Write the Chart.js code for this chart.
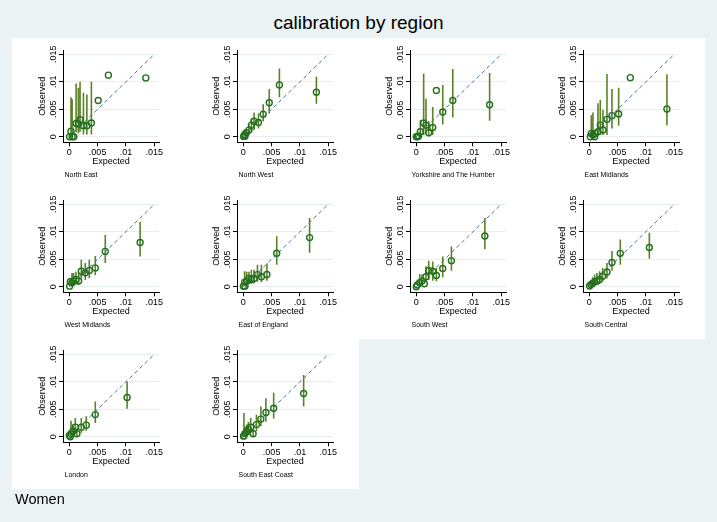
<!DOCTYPE html>
<html>
<head>
<meta charset="utf-8">
<script src="https://cdn.jsdelivr.net/npm/chart.js@4.4.1/dist/chart.umd.min.js"></script>
<style>
  body { margin: 0; width: 717px; height: 522px; background: #eaf2f3; position: relative; overflow: hidden;
         font-family: "Liberation Sans", Arial, sans-serif; color: #000; }
  #title { position: absolute; left: 0; top: 12px; width: 717px; text-align: center; font-size: 19px; line-height: 22px; }
  .white { position: absolute; background: #fff; }
  .panel { position: absolute; width: 174px; height: 150px; }
  .panel canvas { position: absolute; left: 0; top: 0; }
  .lbl { position: absolute; left: 55.5px; top: 132.5px; font-size: 7px; line-height: 8px; white-space: nowrap; }
  #note { position: absolute; left: 15px; top: 491px; font-size: 14.5px; line-height: 16px; }
</style>
</head>
<body>
<div id="title">calibration by region</div>
<div class="white" style="left:12px;top:38px;width:693px;height:301px"></div>
<div class="white" style="left:12px;top:339px;width:347px;height:150px"></div>
<div id="panels"></div>
<div id="note">Women</div>
<script>
const regions = ['North East', 'North West', 'Yorkshire and The Humber', 'East Midlands',
  'West Midlands', 'East of England', 'South West', 'South Central', 'London', 'South East Coast'];

const tickValues = [0, 0.005, 0.01, 0.015];
const tickLabels = ['0', '.005', '.01', '.015'];
const refLine = [0, 0.015];

// expected vs observed rate per group, with 95% interval (null = no interval drawn)
const expected = [
  [.00005, .0003, .0005, .0008, .0012, .0016, .0019, .0025, .0031, .0039, .0051, .0069, .0135],
  [.00005, .00024, .0003, .00054, .0010, .00143, .0019, .00268, .00351, .00458, .00637, .0129],
  [0, .00024, .00041, .00071, .0013, .00171, .00219, .0029, .00354, .00467, .00644, .01294],
  [.00018, .00035, .00065, .00094, .00106, .00153, .00194, .00241, .00312, .0040, .00518, .00724, .0137],
  [.00006, .00018, .00047, .00076, .00118, .00165, .00212, .00282, .00353, .00459, .00635, .0125],
  [.00002, .00024, .0003, .0006, .0010, .00143, .0019, .0025, .0032, .00417, .0059, .0117],
  [0, .00018, .0006, .0010, .00142, .00171, .00219, .0029, .00354, .00467, .0062, .0121],
  [.00006, .0003, .00059, .00094, .00135, .00182, .00235, .00312, .0040, .00547, .0106],
  [0, .00018, .0003, .00065, .00106, .00135, .00212, .0030, .00459, .0102],
  [.00005, .00012, .0003, .0006, .0009, .00131, .00173, .00232, .0031, .00399, .00536, .01065]
];
const observed = [
  [0, .0010, 0, 0, .0024, .0023, .0031, .0020, .0020, .0025, .0066, .0112, .0107],
  [.00005, .00042, .0001, .00072, .0012, .0021, .0028, .00258, .00408, .00618, .00942, .0081],
  [0, 0, .00012, .0009, .0025, .0021, .00072, .00168, .0084, .0045, .0066, .00582],
  [0, .0006, .0003, 0, .0006, .0009, .0021, .00121, .00316, .00383, .00413, .01075, .00504],
  [.0001, .0009, .00072, .00102, .00132, .00102, .00282, .00252, .00294, .00342, .00642, .00804],
  [.0001, .00084, .0001, .0010, .0015, .00132, .0015, .0022, .0018, .00222, .0061, .00894],
  [0, .0003, .00072, .00102, .00054, .0018, .00294, .00282, .00204, .0033, .00474, .00924],
  [.00012, .00042, .0006, .0009, .0010, .0013, .0019, .00268, .0044, .00607, .00714],
  [.00024, 0, .00054, .0010, .00174, .00054, .00174, .0021, .00402, .00714],
  [.0001, .0002, .0006, .0009, .00131, .00173, .00054, .0022, .0032, .0044, .00518, .00786]
];
const ciLow = [
  [null, 0, 0, null, .0008, .0006, .0009, .0004, .0004, .0004, null, null, null],
  [null, .0001, null, .0002, .0004, .0010, .0012, .0015, .0028, .0042, .0072, .0060],
  [null, null, null, .0001, .0003, .0004, .0001, .0003, null, .0022, .0035, .0029],
  [null, .0001, .0001, null, null, .0002, .0004, .0003, .0003, .0015, .0020, null, .0021],
  [null, null, .0001, .0002, .0004, .0003, .0013, .0012, .0016, .0021, .0043, .0055],
  [null, .0001, null, .0003, .0005, .0005, .0006, .0009, .0008, .0011, .0040, .0062],
  [null, null, .0002, .0003, null, .0008, .0012, .0011, .0010, .0017, .0029, .0068],
  [null, .0001, .0001, .0003, .0004, .0006, .0010, .0015, .0029, .0040, .0051],
  [null, null, 0, .0003, .0006, .0001, .0007, .0011, .0025, .0051],
  [null, 0, .0001, .0002, .0004, .0006, .0001, .0010, .0019, .0027, .0033, .0055]
];
const ciHigh = [
  [null, .0072, .0068, null, .0097, .0089, .0100, .0080, .0077, .0100, null, null, null],
  [null, .0012, null, .0014, .0022, .0033, .0044, .0042, .0059, .0087, .0124, .0109],
  [null, null, null, .0030, .0115, .0069, .0028, .0054, null, .0094, .0123, .0116],
  [null, .0039, .0044, null, null, .0061, .0067, .0049, .0114, .0087, .0089, null, .01135],
  [null, null, .0025, .0025, .0027, .0027, .0049, .0043, .0049, .0056, .0094, .0118],
  [null, .0028, null, .0027, .0027, .0031, .0031, .0040, .0040, .0042, .0092, .0125],
  [null, null, .0023, .0022, null, .0037, .0047, .0046, .0034, .0055, .0073, .0125],
  [null, .0012, .0017, .0022, .0025, .0028, .0034, .0043, .0065, .0086, .0098],
  [null, null, .0029, .0022, .0034, .0015, .0034, .0037, .0064, .0100],
  [null, .0043, .0018, .0022, .0027, .0034, .0015, .0040, .0055, .0070, .0080, .01125]
];

const colLeft = [9, 183, 356, 529];
const rowTop = [38, 188, 338];
const fontFam = '"Liberation Sans", Arial, sans-serif';

function setTicks(scale) {
  scale.ticks = tickValues.map(v => ({ value: v }));
}

function dibujarPanel(r) {
  const holder = document.createElement('div');
  holder.className = 'panel';
  holder.style.left = colLeft[r % 4] + 'px';
  holder.style.top = rowTop[Math.floor(r / 4)] + 'px';
  holder.innerHTML = '<canvas width="174" height="150"></canvas><div class="lbl">' + regions[r] + '</div>';
  document.getElementById('panels').appendChild(holder);

  const pts = expected[r].map((x, i) => ({ x: x, y: observed[r][i] }));
  const bars = [];
  expected[r].forEach((x, i) => {
    if (ciLow[r][i] === null) return;
    bars.push({ x: x, y: ciLow[r][i] }, { x: x, y: ciHigh[r][i] }, { x: x, y: null });
  });

  new Chart(holder.querySelector('canvas'), {
    type: 'scatter',
    data: {
      datasets: [
        {
          type: 'scatter', data: pts,
          pointRadius: 3, pointBorderWidth: 1.4,
          pointBorderColor: '#24701f', pointBackgroundColor: 'rgba(0,0,0,0)'
        },
        {
          type: 'line', data: bars, spanGaps: false,
          borderColor: '#5a8226', borderWidth: 1.6, pointRadius: 0
        },
        {
          type: 'line', data: refLine.map(v => ({ x: v, y: v })),
          borderColor: '#46709f', borderWidth: 1, borderDash: [4, 3], pointRadius: 0
        }
      ]
    },
    options: {
      responsive: false, animation: false, devicePixelRatio: 1, events: [],
      layout: { padding: { left: 28, right: 24, top: 12, bottom: 20.6 } },
      plugins: { legend: { display: false }, tooltip: { enabled: false } },
      scales: {
        x: {
          type: 'linear', min: -0.00111, max: 0.01583,
          afterBuildTicks: setTicks,
          afterFit: s => { s.height = 25.1; },
          grid: { drawOnChartArea: false, drawTicks: true, tickLength: 4, tickColor: '#000', tickWidth: 1 },
          border: { display: true, color: '#000', width: 1 },
          ticks: { autoSkip: false, maxRotation: 0, padding: 1, color: '#000',
                   font: { size: 9, family: fontFam },
                   callback: (v, i) => tickLabels[i] },
          title: { display: true, text: 'Expected', padding: 0, color: '#000', font: { size: 9, family: fontFam } }
        },
        y: {
          type: 'linear', min: -0.00102, max: 0.01578,
          afterBuildTicks: setTicks,
          afterFit: s => { s.width = 26; },
          grid: { color: '#e6eef0', lineWidth: 1, drawTicks: true, tickLength: 4, tickColor: '#000', tickWidth: 1 },
          border: { display: true, color: '#000', width: 1 },
          ticks: { autoSkip: false, minRotation: 90, maxRotation: 90, crossAlign: 'center', padding: -3.4,
                   color: '#000', font: { size: 9, family: fontFam },
                   callback: (v, i) => tickLabels[i] },
          title: { display: true, text: 'Observed', padding: 0, color: '#000', font: { size: 9, family: fontFam } }
        }
      }
    }
  });
}

regions.forEach((name, r) => dibujarPanel(r));
</script>
</body>
</html>
